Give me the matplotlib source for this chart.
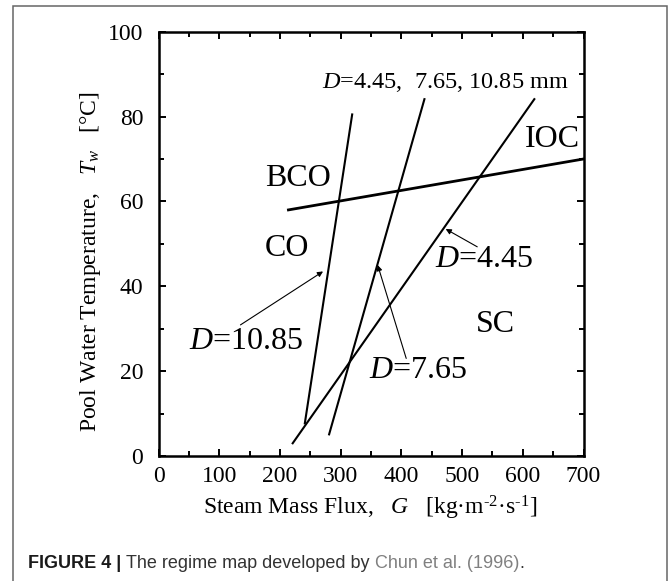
import matplotlib
matplotlib.use("Agg")
import matplotlib.pyplot as plt
from matplotlib.patches import Rectangle

# ---- data ----
d1085_G = [241, 319]
d1085_T = [7.7, 80.5]
d765_G = [281, 438]
d765_T = [5.1, 84.1]
d445_G = [221, 619]
d445_T = [3.0, 84.1]
bco_G = [214, 700]
bco_T = [58, 70]

x_ticks = [0, 100, 200, 300, 400, 500, 600, 700]
y_ticks = [0, 20, 40, 60, 80, 100]

plt.rcParams['font.family'] = ['Liberation Serif', 'DejaVu Serif']
plt.rcParams['mathtext.fontset'] = 'custom'
plt.rcParams['mathtext.rm'] = 'Liberation Serif'
plt.rcParams['mathtext.it'] = 'Liberation Serif:italic'
plt.rcParams['mathtext.bf'] = 'Liberation Serif:bold'

W, H = 669, 581
fig = plt.figure(figsize=(W/100, H/100), dpi=100)
fig.patch.set_facecolor('white')

# outer frame
fig.patches.append(Rectangle((13/W, -0.02), (667-13)/W, 1.02 - 6/H,
                             transform=fig.transFigure, fill=False,
                             edgecolor='#666666', lw=1.1))

ax_l, ax_r, ax_t, ax_b = 158.5, 583.5, 31.7, 456
ax = fig.add_axes([ax_l/W, 1-ax_b/H, (ax_r-ax_l)/W, (ax_b-ax_t)/H])

lc = 'black'
ax.plot(d1085_G, d1085_T, color=lc, lw=1.5)
ax.plot(d765_G, d765_T, color=lc, lw=1.5)
ax.plot(d445_G, d445_T, color=lc, lw=1.5)
ax.plot(bco_G, bco_T, color=lc, lw=2.0)

ax.set_xlim(0, 700)
ax.set_ylim(0, 100)
ax.set_xticks(x_ticks)
ax.set_yticks(y_ticks)
ax.set_xticks(range(50, 700, 100), minor=True)
ax.set_yticks(range(10, 100, 20), minor=True)
ax.tick_params(which='both', direction='in', top=True, right=True, width=1.4,
               labelsize=17)
ax.tick_params(which='major', length=5)
ax.tick_params(which='minor', length=3.5)
ax.tick_params(axis='y', pad=11)
ax.tick_params(axis='x', pad=7)
for s in ax.spines.values():
    s.set_linewidth(1.8)

ax.set_xlabel('Steam Mass Flux,   $G$   [kg·m$^{\u20102}$·s$^{\u20101}$]', fontsize=17)
ax.set_ylabel('Pool Water Temperature,   $T_w$   [°C]', fontsize=17)
ax.xaxis.set_label_coords((370.5-ax_l)/(ax_r-ax_l), (ax_b-508)/(ax_b-ax_t))
ax.xaxis.label.set_va('center')
ax.yaxis.set_label_coords((91-ax_l)/(ax_r-ax_l), (ax_b-262)/(ax_b-ax_t))
ax.yaxis.label.set_va('center')

# region / line labels
ax.text(270, 88, '$D$=4.45,  7.65, 10.85 mm', fontsize=17.5, va='center', ha='left')
ax.text(603, 74.7, 'IOC', fontsize=23, va='center', ha='left')
ax.text(175, 65.5, 'BCO', fontsize=23, va='center', ha='left')
ax.text(175, 49, 'CO', fontsize=23, va='center', ha='left')
ax.text(523, 30.9, 'SC', fontsize=23, va='center', ha='left')
ax.text(456, 46.2, '$D$=4.45', fontsize=23, va='center', ha='left')
ax.text(51, 27, '$D$=10.85', fontsize=23, va='center', ha='left')
ax.text(346, 20.1, '$D$=7.65', fontsize=23, va='center', ha='left')

ap = dict(arrowstyle='-|>', color='black', lw=0.8, mutation_scale=8,
          shrinkA=0, shrinkB=0)
ax.annotate('', xy=(473, 53.5), xytext=(525, 49.3), arrowprops=ap)
ax.annotate('', xy=(271, 43.5), xytext=(135, 30.9), arrowprops=ap)
ax.annotate('', xy=(361, 45), xytext=(408, 23), arrowprops=ap)

# caption, drawn piece by piece
fig.canvas.draw()
renderer = fig.canvas.get_renderer()
pieces = [('FIGURE 4 | ', 'bold', '#1a1a1a'),
          ('The regime map developed by ', 'normal', '#333333'),
          ('Chun et al. (1996)', 'normal', '#808080'),
          ('.', 'normal', '#333333')]
xpos = 28 / W
for txt, wgt, col in pieces:
    t = fig.text(xpos, 1 - 563/H, txt, fontsize=13, fontweight=wgt,
                 family='Liberation Sans', va='center', ha='left', color=col)
    bb = t.get_window_extent(renderer=renderer)
    xpos += bb.width / W

fig.savefig('out.png', dpi=100)
